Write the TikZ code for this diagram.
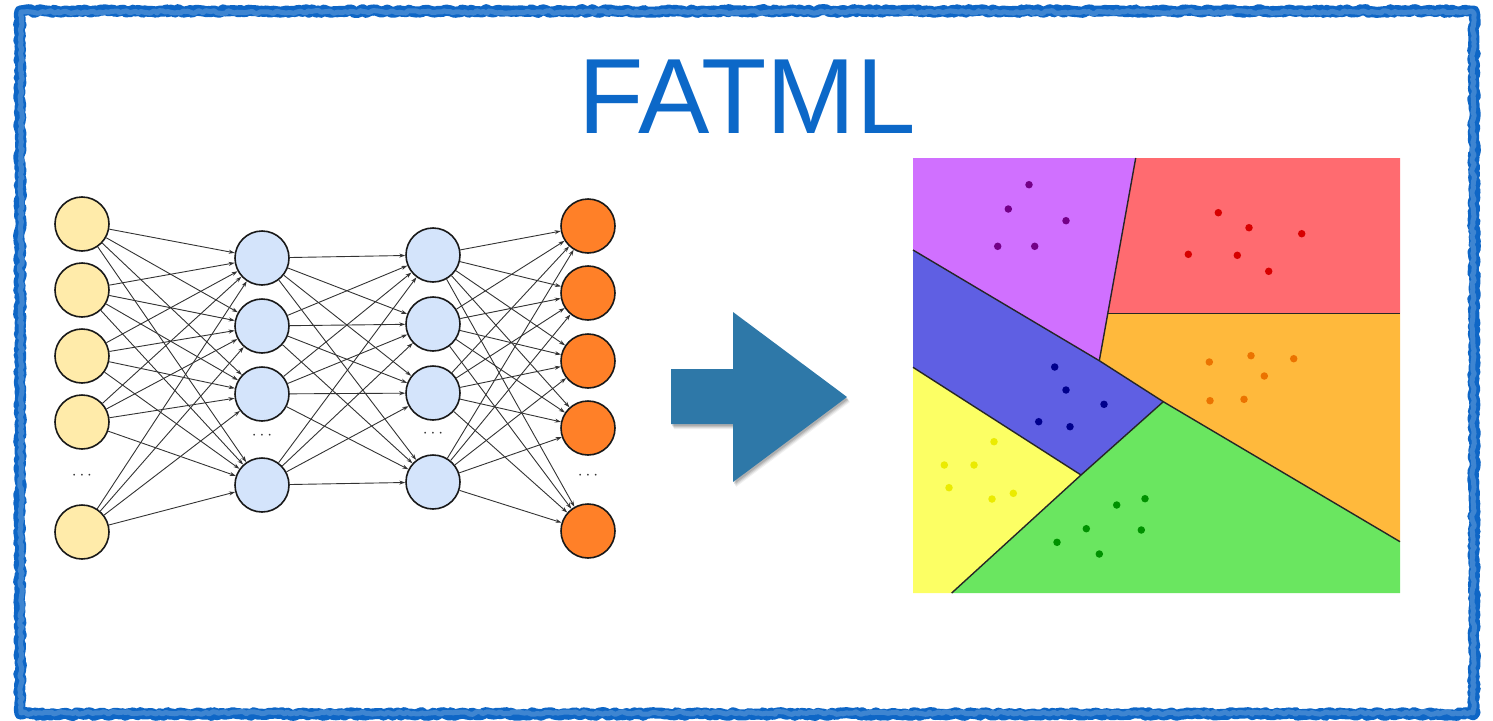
\documentclass[tikz,border=0pt]{standalone}
\usepackage{fontspec}
\newfontfamily\titlefont{Liberation Sans}
\usetikzlibrary{arrows.meta,shadows,decorations.pathmorphing}
\definecolor{frameblue}{RGB}{14,102,198}
\definecolor{titleblue}{RGB}{12,104,200}
\definecolor{arrowblue}{RGB}{46,120,168}
\definecolor{inyellow}{RGB}{255,235,170}
\definecolor{hidblue}{RGB}{212,228,251}
\definecolor{outorange}{RGB}{255,128,40}
\definecolor{rpurple}{RGB}{208,112,255}
\definecolor{rred}{RGB}{255,107,112}
\definecolor{rorange}{RGB}{255,185,60}
\definecolor{rblue}{RGB}{95,95,227}
\definecolor{ryellow}{RGB}{252,255,100}
\definecolor{rgreen}{RGB}{106,230,96}
\definecolor{dpurple}{RGB}{115,0,135}
\definecolor{dred}{RGB}{215,0,0}
\definecolor{dorange}{RGB}{235,115,0}
\definecolor{dblue}{RGB}{0,0,140}
\definecolor{dyellow}{RGB}{235,235,0}
\definecolor{dgreen}{RGB}{0,145,0}
\begin{document}
\begin{tikzpicture}[x=1pt,y=-1pt,
  neuron/.style={circle,draw=black!90,line width=1.6pt,minimum size=54pt,inner sep=0pt},
  inneuron/.style={neuron,fill=inyellow},
  hidneuron/.style={neuron,fill=hidblue},
  outneuron/.style={neuron,fill=outorange},
  link/.style={draw=black!80,line width=0.9pt,-{Stealth[length=6pt,width=4pt]}},
  ellip/.style={text=black!80,font=\fontsize{17}{17}\selectfont,inner sep=0pt},
  border/.style={draw=black!85,line width=1.4pt},
  dotmark/.style={circle,inner sep=0pt,minimum size=7.5pt},
  frame/.style={draw=frameblue,line join=round,decorate,decoration={random steps,segment length=3pt,amplitude=1.4pt}}
]
\useasboundingbox (0,0) rectangle (1493,720);

% rough frame
\draw[frame,line width=11pt] (20,11) rectangle (1474,714);
\draw[frame,line width=5pt,draw=frameblue!80!white] (21,12) rectangle (1473,713);

% title
\node[text=titleblue,font=\titlefont\fontsize{107}{110}\selectfont,inner sep=0pt] (title) at (747,97) {FATML};

% network
\foreach \n/\y in {1/224,2/290,3/356,4/422,5/532}
  \node[inneuron] (i\n) at (82,\y) {};
\foreach \n/\y in {1/258,2/326,3/394,4/485}
  \node[hidneuron] (h\n) at (262,\y) {};
\foreach \n/\y in {1/255,2/324,3/393,4/482}
  \node[hidneuron] (g\n) at (433,\y) {};
\foreach \n/\y in {1/226,2/293,3/361,4/428,5/531}
  \node[outneuron] (o\n) at (588,\y) {};
\node[ellip] (di) at (82,476) {$\cdots$};
\node[ellip] (dh) at (262,436) {$\cdots$};
\node[ellip] (dg) at (433,434) {$\cdots$};
\node[ellip] (do) at (588,476) {$\cdots$};

\foreach \a in {1,...,5}
  \foreach \b in {1,...,4}
    \draw[link] (i\a) -- (h\b);
\foreach \a in {1,...,4}
  \foreach \b in {1,...,4}
    \draw[link] (h\a) -- (g\b);
\foreach \a in {1,...,4}
  \foreach \b in {1,...,5}
    \draw[link] (g\a) -- (o\b);

% big arrow with soft shadow
\foreach \o/\op in {5/0.06,4/0.08,3/0.1,2/0.12}
  \fill[black,opacity=\op,shift={(\o*0.6,\o)}]
    (671,369) -- (733,369) -- (733,312) -- (847,397) -- (733,482) -- (733,424) -- (671,424) -- cycle;
\fill[arrowblue]
  (671,369) -- (733,369) -- (733,312) -- (847,397) -- (733,482) -- (733,424) -- (671,424) -- cycle;

% partition map
\coordinate (TL) at (913,158);
\coordinate (TR) at (1400,158);
\coordinate (BR) at (1400,593);
\coordinate (BL) at (913,593);
\coordinate (P1) at (1135.7,158);
\coordinate (P2) at (1107.8,313.3);
\coordinate (R0) at (1400,313.3);
\coordinate (P3) at (1099.3,360.7);
\coordinate (A1) at (913,250);
\coordinate (P4) at (1163.3,401.7);
\coordinate (R1) at (1400,541.7);
\coordinate (A2) at (913,367.3);
\coordinate (P5) at (1081,475);
\coordinate (B1) at (951.7,593);

\fill[rpurple] (TL) -- (P1) -- (P3) -- (A1) -- cycle;
\fill[rred] (P1) -- (TR) -- (R0) -- (P2) -- cycle;
\fill[rorange] (P2) -- (R0) -- (R1) -- (P4) -- (P3) -- cycle;
\fill[rblue] (A1) -- (P3) -- (P4) -- (P5) -- (A2) -- cycle;
\fill[ryellow] (A2) -- (P5) -- (B1) -- (BL) -- cycle;
\fill[rgreen] (P5) -- (P4) -- (R1) -- (BR) -- (B1) -- cycle;

\draw[border] (P1) -- (P3);
\draw[border] (P2) -- (R0);
\draw[border] (A1) -- (P3) -- (P4) -- (R1);
\draw[border] (A2) -- (P5);
\draw[border] (P4) -- (P5) -- (B1);

\foreach \x/\y in {1029/184.7,1008.3/209,1066/220.7,997.7/246.3,1034.7/246.3}
  \node[dotmark,fill=dpurple] at (\x,\y) {};
\foreach \x/\y in {1218.3/212.7,1249/227.7,1301.7/233.7,1188.3/254.3,1237.3/255.3,1268.7/271.3}
  \node[dotmark,fill=dred] at (\x,\y) {};
\foreach \x/\y in {1209.3/362,1251/355.7,1293.7/358.7,1264.3/376,1210/400.7,1244/399.3}
  \node[dotmark,fill=dorange] at (\x,\y) {};
\foreach \x/\y in {1054.7/367,1066/390,1104/404.3,1038.7/421.7,1070/426.7}
  \node[dotmark,fill=dblue] at (\x,\y) {};
\foreach \x/\y in {994/441.7,944.3/465,974/465,949/487.7,992/499,1013.3/493.3}
  \node[dotmark,fill=dyellow] at (\x,\y) {};
\foreach \x/\y in {1145/498.7,1116.7/505,1086.3/528.7,1141.3/530,1057/542.3,1099.3/554}
  \node[dotmark,fill=dgreen] at (\x,\y) {};
\end{tikzpicture}
\end{document}
